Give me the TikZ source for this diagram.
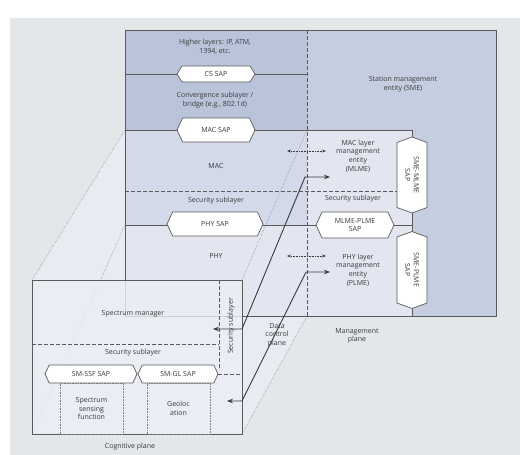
\documentclass[tikz,border=0pt]{standalone}
\usepackage{fontspec}
\setmainfont{Open Sans}
\usepackage{xcolor}
\usetikzlibrary{shapes.symbols,arrows.meta,positioning,calc}
\definecolor{bggray}{HTML}{E4E7EA}
\definecolor{facelight}{HTML}{E9EBF2}
\definecolor{upperblue}{HTML}{B9C4DA}
\definecolor{macblue}{HTML}{D3D9E9}
\definecolor{phylight}{HTML}{E3E6F0}
\definecolor{smeblue}{HTML}{C5CDE0}
\definecolor{coglight}{HTML}{ECEEF5}
\definecolor{txtgray}{HTML}{3A3A3A}
\definecolor{framegray}{HTML}{5A5A5A}
\tikzset{
  frame/.style={draw=framegray, line width=0.8pt},
  persp/.style={draw=gray, densely dotted, line width=0.5pt},
  secline/.style={draw=framegray, dashed, dash pattern=on 3.5pt off 2.5pt, line width=0.8pt},
  sap/.style={signal, signal to=east and west, signal pointer angle=130, draw=framegray,
    line width=0.7pt, fill=white, inner sep=0pt},
  dotbox/.style={draw=gray, densely dotted, line width=0.6pt, inner sep=0pt},
  bigarrow/.style={draw=txtgray, line width=0.9pt, {Stealth[length=6pt,width=4.5pt]}-{Stealth[length=6pt,width=4.5pt]}},
  dotarrow/.style={draw=txtgray, densely dotted, line width=0.6pt, {Stealth[length=4pt,width=3pt]}-{Stealth[length=4pt,width=3pt]}}
}
\begin{document}
\begin{tikzpicture}[x=1pt, y=-1pt, every node/.style={font=\fontsize{7}{8.6}\selectfont, text=txtgray, align=center}]
\useasboundingbox (0,0) rectangle (520,455);
\fill[bggray] (10,18) rectangle (520,455);

% extruded faces of the cognitive plane
\fill[facelight] (32,280) -- (125,130) -- (307,130) -- (307,316) -- (242,434) -- (32,434) -- cycle;
\draw[persp] (32,280) -- (125,130);
\draw[persp] (32,434) -- (125,225);
\draw[persp] (242,434) -- (307,316);

% data plane and management plane
\fill[upperblue] (125,30) rectangle (307,130);
\fill[macblue] (125,130) rectangle (307,225);
\fill[phylight] (125,225) rectangle (307,316);
\fill[smeblue] (307,30) rectangle (496,316);
\fill[phylight] (307,130) rectangle (412,316);
\draw[frame] (125,30) rectangle (496,316);
\draw[frame] (125,74) -- (307,74);
\draw[frame] (125,130) -- (412,130) -- (412,140);
\draw[frame] (125,225) -- (412,225);
\draw[frame] (412,205) -- (412,240);
\draw[frame] (412,300) -- (412,316);
\draw[secline] (307,30) -- (307,316);
\draw[secline] (125,191) -- (397,191);
\draw[persp] (242,280) -- (307,130);

\node (higher) at (215,47) {Higher layers: IP, ATM,\\1394, etc.};
\node[sap, minimum width=78, minimum height=16, signal pointer angle=116] (cssap) at (216,74) {CS SAP};
\node (conv) at (215,100) {Convergence sublayer /\\bridge (e.g., 802.1d)};
\node[sap, minimum width=78, minimum height=24] (macsap) at (216,130) {MAC SAP};
\node (mac) at (216,166) {MAC};
\node (secmac) at (216,201) {Security sublayer};
\node[sap, minimum width=96, minimum height=24] (physap) at (215,224) {PHY SAP};
\node (phy) at (216,256) {PHY};

\node (sme) at (403,84) {Station management\\entity (SME)};
\node (mlme) at (358,156) {MAC layer\\management\\entity\\(MLME)};
\node (secmgmt) at (353,199) {Security sublayer};
\node[sap, minimum width=78, minimum height=26] (mpsap) at (355,225) {MLME-PLME\\SAP};
\node (plme) at (358,270) {PHY layer\\management\\entity\\(PLME)};
\node[sap, rotate=-90, minimum width=76, minimum height=30, signal pointer angle=140] (smemlme) at (412,175) {SME-MLME\\SAP};
\node[sap, rotate=-90, minimum width=77, minimum height=30, signal pointer angle=140] (smeplme) at (412,270) {SME-PLME\\SAP};

% cognitive plane
\draw[frame, fill=coglight, fill opacity=0.8] (32,280) rectangle (242,434);
\node (specman) at (133,314) {Spectrum manager};
\draw[secline] (32,344) -- (219,344);
\draw[secline] (219,280) -- (219,370);
\node (seccog) at (133,353) {Security sublayer};
\node[rotate=90] (seccogv) at (231,326) {Security sublayer};
\node[dotbox, minimum width=63, minimum height=51] (ssf) at (91.5,408.5) {Spectrum\\sensing\\function};
\node[dotbox, minimum width=63, minimum height=51] (geo) at (178.5,408.5) {Geoloc\\ation};
\node[sap, minimum width=92, minimum height=18] (ssfsap) at (91,374) {SM-SSF SAP};
\node[sap, minimum width=80, minimum height=18] (glsap) at (178,374) {SM-GL SAP};
\draw[secline] (glsap.east) -- (242,374);

\node (cogplane) at (130,447) {Cognitive plane};
\node (dcp) at (277,335) {Data\\control\\plane};
\node (mgmtplane) at (357,336) {Management\\plane};

% control paths
\coordinate (aL) at (213,329);
\coordinate (aK) at (242,329);
\coordinate (aT) at (305,177);
\coordinate (aR) at (330,177);
\coordinate (bL) at (227,401);
\coordinate (bK) at (242,401);
\coordinate (bT) at (306,272);
\coordinate (bR) at (330,272);
\draw[bigarrow] (aL) -- (aK) -- (aT) -- (aR);
\draw[bigarrow] (bL) -- (bK) -- (bT) -- (bR);
\draw[dotarrow] (287,151) -- (326,151);
\draw[dotarrow] (287,256) -- (326,256);
\end{tikzpicture}
\end{document}
